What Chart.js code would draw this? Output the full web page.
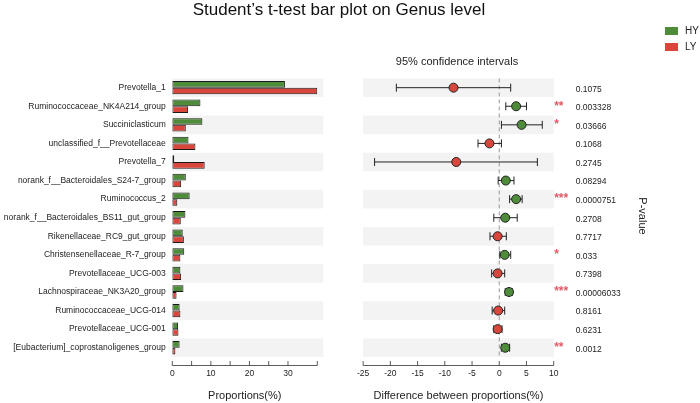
<!DOCTYPE html>
<html>
<head>
<meta charset="utf-8">
<script src="https://cdn.jsdelivr.net/npm/chart.js@4.4.0/dist/chart.umd.min.js"></script>
<style>
  body { margin: 0; background: #fff; font-family: "Liberation Sans", Arial, sans-serif; }
  #wrap { position: relative; width: 700px; height: 403px; overflow: hidden; }
  canvas { position: absolute; top: 0; }
  #left { left: 0; }
  #right { left: 345px; }
  .title { position: absolute; top: 0; left: 0; width: 678px; text-align: center; font-size: 17px; line-height: 20px; color: #111; }
  .sw { position: absolute; left: 665px; width: 13px; height: 8px; }
  .lg { position: absolute; left: 685px; font-size: 10px; line-height: 12px; color: #222; }
  .ci { position: absolute; left: 357px; top: 55px; width: 200px; text-align: center; font-size: 11px; line-height: 13px; color: #222; }
  .pv { position: absolute; left: 613px; top: 209px; width: 60px; height: 14px; line-height: 14px; text-align: center; font-size: 11px; color: #222; transform: rotate(90deg); }
</style>
</head>
<body>
<div id="wrap">
  <canvas id="left" width="345" height="403"></canvas>
  <canvas id="right" width="355" height="403"></canvas>
  <div class="title">Student’s t-test bar plot on Genus level</div>
  <div class="sw" style="top:27px;background:#4f8c3a"></div>
  <div class="lg" style="top:25px">HY</div>
  <div class="sw" style="top:43px;background:#d9473c"></div>
  <div class="lg" style="top:41px">LY</div>
  <div class="ci">95% confidence intervals</div>
  <div class="pv">P-value</div>
</div>
<script>
const genera = [
  'Prevotella_1',
  'Ruminococcaceae_NK4A214_group',
  'Succiniclasticum',
  'unclassified_f__Prevotellaceae',
  'Prevotella_7',
  'norank_f__Bacteroidales_S24-7_group',
  'Ruminococcus_2',
  'norank_f__Bacteroidales_BS11_gut_group',
  'Rikenellaceae_RC9_gut_group',
  'Christensenellaceae_R-7_group',
  'Prevotellaceae_UCG-003',
  'Lachnospiraceae_NK3A20_group',
  'Ruminococcaceae_UCG-014',
  'Prevotellaceae_UCG-001',
  '[Eubacterium]_coprostanoligenes_group'
];

// mean proportions (%)
const hy = [29.2, 7.3, 7.8, 4.2, 0.5, 3.5, 4.5, 3.4, 2.7, 3.1, 2.1, 2.9, 1.9, 1.5, 1.9];
const ly = [37.6, 4.1, 3.5, 6.0, 8.4, 2.3, 1.3, 2.2, 3.0, 2.1, 2.3, 1.1, 2.1, 1.6, 0.8];

// difference between proportions and 95% CI
const diff = [-8.4, 3.1, 4.1, -1.8, -7.9, 1.2, 3.1, 1.1, -0.3, 1.0, -0.3, 1.8, -0.2, -0.3, 1.1];
const ciLow = [-18.9, 1.2, 0.4, -3.9, -22.9, -0.2, 1.9, -1.0, -1.7, 0.1, -1.4, 1.1, -1.3, -1.0, 0.4];
const ciHigh = [2.1, 5.0, 7.9, 0.4, 7.0, 2.7, 4.2, 3.3, 1.3, 2.1, 1.0, 2.4, 1.0, 0.5, 1.9];

const pValues = ['0.1075', '0.003328', '0.03666', '0.1068', '0.2745', '0.08294', '0.0000751', '0.2708',
  '0.7717', '0.033', '0.7398', '0.00006033', '0.8161', '0.6231', '0.0012'];

const GREEN = '#4f8c3a';
const RED = '#d9473c';
const FONT = '"Liberation Sans", Arial, sans-serif';

Chart.defaults.font.family = FONT;
Chart.defaults.color = '#222';

function stars(p) {
  const v = parseFloat(p);
  if (v < 0.001) return '***';
  if (v < 0.01) return '**';
  if (v < 0.05) return '*';
  return '';
}

// grey bands behind every other row
const stripes = {
  id: 'stripes',
  beforeDatasetsDraw(chart, args, opts) {
    const ys = chart.scales.y;
    const { left, right } = chart.chartArea;
    const h = ys.getPixelForValue(1) - ys.getPixelForValue(0);
    const ctx = chart.ctx;
    ctx.save();
    ctx.fillStyle = '#f3f3f3';
    for (let i = 0; i < genera.length; i += 2) {
      const c = ys.getPixelForValue(i);
      ctx.fillRect(left, c - h / 2, right - left + (opts.extra || 0), h);
    }
    ctx.restore();
  }
};

// axis line with ticks pointing up, a bit below the plot
const axisLine = {
  id: 'axisLine',
  afterDraw(chart) {
    const xs = chart.scales.x;
    const ctx = chart.ctx;
    const y = chart.chartArea.bottom + 8.5;
    ctx.save();
    ctx.strokeStyle = '#333';
    ctx.lineWidth = 0.8;
    ctx.beginPath();
    ctx.moveTo(xs.left, y);
    ctx.lineTo(xs.right, y);
    xs.ticks.forEach(t => {
      const px = xs.getPixelForValue(t.value);
      ctx.moveTo(px, y);
      ctx.lineTo(px, y - 4.5);
    });
    ctx.stroke();
    ctx.restore();
  }
};

function xAxis(min, max, title, cb) {
  return {
    type: 'linear',
    min: min,
    max: max,
    grid: { display: false, drawTicks: false },
    border: { display: false },
    ticks: { stepSize: 5, padding: 12, font: { size: 8.5 }, color: '#222', callback: cb },
    title: { display: true, text: title, font: { size: 11 }, color: '#222', padding: 0 },
    afterFit(scale) { scale.height = 46; }
  };
}

new Chart(document.getElementById('left'), {
  type: 'bar',
  data: {
    labels: genera,
    datasets: [
      { label: 'HY', data: hy, backgroundColor: GREEN },
      { label: 'LY', data: ly, backgroundColor: RED }
    ]
  },
  options: {
    indexAxis: 'y',
    responsive: false,
    animation: false,
    layout: { padding: { top: 78.4, right: 27.7, bottom: 0, left: 0 } },
    datasets: {
      bar: { categoryPercentage: 0.72, barPercentage: 1, borderColor: '#1a1a1a', borderWidth: 1, borderSkipped: false }
    },
    plugins: { legend: { display: false }, tooltip: { enabled: false }, stripes: { extra: 6 } },
    scales: {
      x: xAxis(0, 37.6, 'Proportions(%)', v => (v % 10 === 0 ? v : '')),
      y: {
        grid: { display: false, drawTicks: false },
        border: { display: false },
        ticks: { padding: 6.5, font: { size: 8.5 }, color: '#222' },
        afterFit(scale) { scale.width = 172.3; }
      }
    }
  },
  plugins: [stripes, axisLine]
});

// CI whiskers, zero line, p-values and stars
const ciBars = {
  id: 'ciBars',
  beforeDatasetsDraw(chart) {
    const xs = chart.scales.x, ys = chart.scales.y;
    const ctx = chart.ctx;
    const { top, bottom } = chart.chartArea;
    ctx.save();
    ctx.strokeStyle = '#999';
    ctx.lineWidth = 1;
    ctx.setLineDash([4, 3]);
    const x0 = xs.getPixelForValue(0);
    ctx.beginPath();
    ctx.moveTo(x0, top);
    ctx.lineTo(x0, bottom);
    ctx.stroke();
    ctx.setLineDash([]);
    ctx.strokeStyle = '#222';
    ctx.beginPath();
    genera.forEach((g, i) => {
      const y = ys.getPixelForValue(i);
      const a = xs.getPixelForValue(ciLow[i]);
      const b = xs.getPixelForValue(ciHigh[i]);
      ctx.moveTo(a, y); ctx.lineTo(b, y);
      ctx.moveTo(a, y - 4); ctx.lineTo(a, y + 4);
      ctx.moveTo(b, y - 4); ctx.lineTo(b, y + 4);
    });
    ctx.stroke();
    ctx.restore();
  },
  afterDraw(chart) {
    const ys = chart.scales.y;
    const ctx = chart.ctx;
    const right = chart.chartArea.right;
    ctx.save();
    ctx.textBaseline = 'middle';
    ctx.textAlign = 'left';
    pValues.forEach((p, i) => {
      const y = ys.getPixelForValue(i);
      ctx.fillStyle = '#222';
      ctx.font = '8.5px ' + FONT;
      ctx.fillText(p, right + 22, y + 1.5);
      ctx.fillStyle = '#de5b67';
      ctx.font = 'bold 12px ' + FONT;
      ctx.fillText(stars(p), right + 0.5, y);
    });
    ctx.restore();
  }
};

new Chart(document.getElementById('right'), {
  type: 'line',
  data: {
    labels: genera,
    datasets: [{
      data: diff,
      showLine: false,
      pointRadius: 4.5,
      pointBorderWidth: 1,
      pointBorderColor: '#222',
      pointBackgroundColor: diff.map(d => (d >= 0 ? GREEN : RED))
    }]
  },
  options: {
    indexAxis: 'y',
    responsive: false,
    animation: false,
    layout: { padding: { top: 78.4, right: 146.3, bottom: 0, left: 16 } },
    plugins: { legend: { display: false }, tooltip: { enabled: false } },
    scales: {
      x: xAxis(-25, 10, 'Difference between proportions(%)'),
      y: { type: 'category', offset: true, display: false }
    }
  },
  plugins: [stripes, ciBars, axisLine]
});
</script>
</body>
</html>
